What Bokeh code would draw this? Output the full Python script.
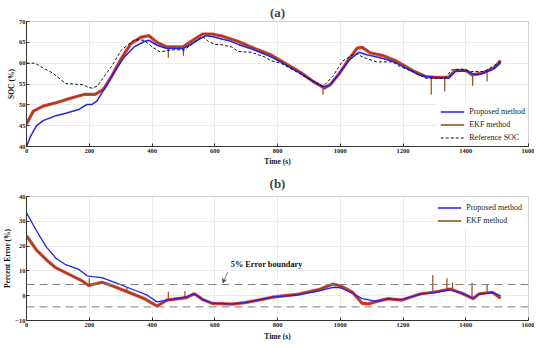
from bokeh.plotting import figure
from bokeh.layouts import column
from bokeh.models import FixedTicker, Legend, LegendItem, Arrow, VeeHead, Label, Span, Title
from bokeh.embed import file_html
from bokeh.resources import INLINE

# ---------------- panel (a): SOC ----------------
t_prop = [0, 12, 32, 53, 94, 125, 167, 193, 209, 224, 250, 281, 312, 343, 375, 390, 416, 447, 499, 520,
          551, 572, 592, 613, 645, 675, 710, 748, 779, 810, 840, 873, 914, 945, 966, 997, 1028, 1059,
          1085, 1110, 1137, 1160, 1179, 1205, 1231, 1250, 1272, 1300, 1320, 1345, 1366, 1390, 1407,
          1433, 1450, 1469, 1490, 1511]
soc_prop = [40, 42.3, 45, 46.2, 47.4, 48, 48.9, 50.1, 50.1, 50.9, 54, 58, 61.5, 63.9, 65.2, 65.5, 64.3, 63.5, 63.5, 64.3,
            65.8, 66.6, 66.4, 66, 65.4, 64.5, 63.6, 62.5, 61.5, 60.3, 59, 57.6, 55.6, 54.4, 54.6, 57.6, 60.7, 62.6,
            62, 61.6, 61.1, 60.6, 60, 59, 58, 57.2, 56.8, 56.6, 56.5, 56.4, 58, 58.1, 58,
            57.2, 57.4, 58, 58.8, 60]

t_ekf = [0, 22, 53, 94, 146, 183, 219, 245, 271, 302, 333, 364, 390, 416, 447, 499, 530, 561, 592, 623,
         675, 727, 779, 810, 873, 914, 950, 970, 997, 1028, 1054, 1070, 1095, 1137, 1179, 1231, 1272,
         1300, 1345, 1366, 1400, 1420, 1450, 1490, 1511]
soc_ekf = [45.4, 48.5, 49.7, 50.5, 51.7, 52.5, 52.5, 53.7, 56.8, 61.1, 64.7, 66.2, 66.6, 65, 63.9, 63.9, 65.5, 67, 67, 66.5,
           65.2, 63.5, 62, 60.6, 57.8, 55.6, 54, 55, 57.5, 61, 63.6, 63.8, 62.5, 61.8, 60.5, 58.2, 56.8,
           56.6, 56.6, 58.2, 58.3, 57.2, 57.6, 58.8, 60.6]
spk_a_t = [452, 500, 945, 1290, 1333, 1422, 1468]
spk_a_base = [63.9, 63.9, 54.3, 56.6, 56.5, 57.3, 57.8]
spk_a_tip = [61.3, 61.8, 52.4, 52.5, 53.2, 54.6, 55.6]

t_ref = [0, 27, 50, 84, 125, 146, 183, 195, 210, 225, 240, 271, 302, 343, 375, 400, 426, 447, 468, 504,
         530, 561, 580, 600, 623, 654, 675, 717, 759, 779, 810, 873, 914, 945, 955, 976, 1007, 1040,
         1054, 1070, 1085, 1116, 1168, 1189, 1231, 1272, 1334, 1355, 1386, 1418, 1460, 1511]
soc_ref = [60, 60, 59, 57.6, 55.1, 55, 54.8, 54.2, 54, 54.5, 56, 59.2, 63.1, 65.6, 65.5, 63.9, 62.7, 63, 63.2, 63.2,
           64.8, 66.4, 65.2, 64.5, 64.4, 63.9, 62.8, 62.6, 61.5, 60.6, 60, 57.4, 55.6, 54.4, 55.2, 56.8, 60.5, 62,
           62.3, 61.5, 61.1, 60.3, 60.3, 59.2, 58, 56.4, 56.4, 58.4, 58.6, 58, 58, 60.4]

# ---------------- panel (b): percent error ----------------
t_err_prop = [0, 32, 63, 94, 125, 167, 193, 209, 240, 281, 333, 385, 416, 447, 510, 535, 561, 592, 655, 696,
              738, 790, 862, 935, 977, 1000, 1039, 1070, 1111, 1153, 1194, 1257, 1298, 1350, 1391, 1423,
              1443, 1485, 1511]
err_prop = [33.4, 26.2, 19.7, 15.1, 12.5, 10.6, 8, 7.7, 7.3, 5.4, 2.8, 0.2, -2.5, -1.8, -0.5, 0.8, -1.5, -3, -3.3, -2.8,
            -1.8, -0.5, 0.2, 2, 3.4, 3.2, 1, -1.2, -2.2, -1.4, -1.6, 0.6, 1.2, 2.4, 0.8, -1,
            0.6, 1.2, 0]

t_err_ekf = [0, 32, 63, 94, 136, 177, 198, 240, 271, 323, 374, 416, 447, 510, 535, 561, 592, 655, 696, 738,
             790, 862, 935, 977, 1000, 1039, 1070, 1090, 1111, 1153, 1194, 1257, 1298, 1350, 1391, 1423,
             1443, 1485, 1511]
err_ekf = [24.2, 18.4, 14.5, 11.2, 8.6, 6, 4.1, 5.4, 4.1, 1.5, -1.1, -4.2, -1.8, -0.8, 0.8, -1.5, -3.1, -3.4, -2.8, -1.8,
           -0.5, 0.5, 2.6, 4.7, 4, 1.4, -3.1, -3.3, -2.5, -1.2, -1.8, 0.8, 1.4, 2.7, 0.8, -1.2,
           0.8, 1.4, -1]
spk_b_t = [200, 320, 452, 505, 1295, 1340, 1358, 1420, 1468]
spk_b_base = [4.3, 1.8, -1.8, -0.8, 1.4, 2.5, 2.7, -1, 1.2]
spk_b_tip = [7, 3.2, 1.6, 1.8, 8.2, 7, 5.2, 5.2, 4.6]

bound = [4.5, -4.5]
x_ticks = [0, 200, 400, 600, 800, 1000, 1200, 1400, 1600]
y_ticks_a = [40, 45, 50, 55, 60, 65, 70]
y_ticks_b = [-10, 0, 10, 20, 30, 40]

SERIF = "Liberation Serif"
BLUE = "#2222ee"
RED = "#ee2222"
BROWN = "#8c4a1a"


def style(p, yticks, ylabel, title_standoff):
    p.xaxis.ticker = FixedTicker(ticks=x_ticks)
    p.yaxis.ticker = FixedTicker(ticks=yticks)
    for ax in (p.xaxis, p.yaxis):
        ax.major_label_text_font = SERIF
        ax.major_label_text_font_style = "bold"
        ax.major_label_text_font_size = "6.5px"
        ax.major_label_text_color = "#222222"
        ax.axis_label_text_font = SERIF
        ax.axis_label_text_font_style = "bold"
        ax.axis_label_text_font_size = "7.5px"
        ax.axis_label_text_color = "#111111"
        ax.major_tick_in = 3
        ax.major_tick_out = 0
        ax.minor_tick_line_color = None
        ax.axis_line_color = "#333333"
        ax.major_tick_line_color = "#333333"
        ax.major_label_standoff = 2
        ax.axis_label_standoff = 1
    p.yaxis.major_label_standoff = 1
    p.yaxis.axis_label_standoff = 0
    p.yaxis.axis_label = ylabel
    p.xgrid.ticker = FixedTicker(ticks=x_ticks)
    p.ygrid.ticker = FixedTicker(ticks=yticks)
    p.grid.grid_line_color = "#ebebeb"
    p.outline_line_color = "#d0d0d0"
    p.title.text_font = SERIF
    p.title.text_font_size = "13px"
    p.title.text_font_style = "bold"
    p.title.align = "center"
    p.title.standoff = title_standoff
    p.min_border_left = 0
    p.min_border_right = 6
    p.min_border_top = 0
    p.min_border_bottom = 0


# ---- figure (a)
pa = figure(width=534, height=168, x_range=(0, 1600), y_range=(40, 70), title="(a)",
            output_backend="svg", toolbar_location=None)
style(pa, y_ticks_a, "SOC (%)", 4)
pa.xaxis.axis_label = "Time (s)"
pa.segment(x0=spk_a_t, y0=spk_a_base, x1=spk_a_t, y1=spk_a_tip, line_color=BROWN, line_width=1.2)
pa.line(t_ekf, soc_ekf, line_color=RED, line_width=3.2, line_alpha=0.9)
r_ekf_a = pa.line(t_ekf, soc_ekf, line_color=BROWN, line_width=1.4)
r_prop_a = pa.line(t_prop, soc_prop, line_color=BLUE, line_width=1.5)
r_ref_a = pa.line(t_ref, soc_ref, line_color="#111111", line_width=1.0, line_dash="3 2")
leg_a = Legend(items=[LegendItem(label="Proposed method", renderers=[r_prop_a]),
                      LegendItem(label="EKF method", renderers=[r_ekf_a]),
                      LegendItem(label="Reference SOC", renderers=[r_ref_a])],
               location="bottom_right", margin=0, padding=3)
pa.add_layout(leg_a)

# ---- figure (b)
pb = figure(width=534, height=172, x_range=(0, 1600), y_range=(-10, 40), title="(b)",
            output_backend="svg", toolbar_location=None)
style(pb, y_ticks_b, "Percent Error (%)", 11)
pb.add_layout(Title(text="Time (s)", align="center", text_font=SERIF, text_font_style="bold",
                    text_font_size="7.5px", text_color="#111111", standoff=0, offset=0), "below")
for b in bound:
    pb.add_layout(Span(location=b, dimension="width", line_color="#808080",
                       line_width=1, line_dash="8 5"))
pb.segment(x0=spk_b_t, y0=spk_b_base, x1=spk_b_t, y1=spk_b_tip, line_color=BROWN, line_width=1.2)
pb.line(t_err_ekf, err_ekf, line_color=RED, line_width=3.2, line_alpha=0.9)
r_ekf_b = pb.line(t_err_ekf, err_ekf, line_color=BROWN, line_width=1.4)
r_prop_b = pb.line(t_err_prop, err_prop, line_color=BLUE, line_width=1.3)
leg_b = Legend(items=[LegendItem(label="Proposed method", renderers=[r_prop_b]),
                      LegendItem(label="EKF method", renderers=[r_ekf_b])],
               location="top_right", margin=2, padding=4)
pb.add_layout(leg_b)
pb.add_layout(Arrow(end=VeeHead(size=4, line_color="#555555", line_width=0.8),
                    x_start=641, y_start=9.5, x_end=626, y_end=5.2,
                    line_color="#555555", line_width=0.8))
pb.add_layout(Label(x=651, y=12.6, text="5% Error boundary", text_font=SERIF,
                    text_font_style="bold", text_font_size="8.3px", text_baseline="middle",
                    text_color="#111111"))

for lg in (leg_a, leg_b):
    lg.label_text_font = SERIF
    lg.label_text_font_size = "8px"
    lg.label_text_color = "#222222"
    lg.border_line_alpha = 0
    lg.background_fill_alpha = 1
    lg.glyph_width = 24
    lg.glyph_height = 11
    lg.label_height = 11
    lg.spacing = 2

layout = column(pa, pb, spacing=0)
open("out.html", "w").write(file_html(layout, INLINE))
